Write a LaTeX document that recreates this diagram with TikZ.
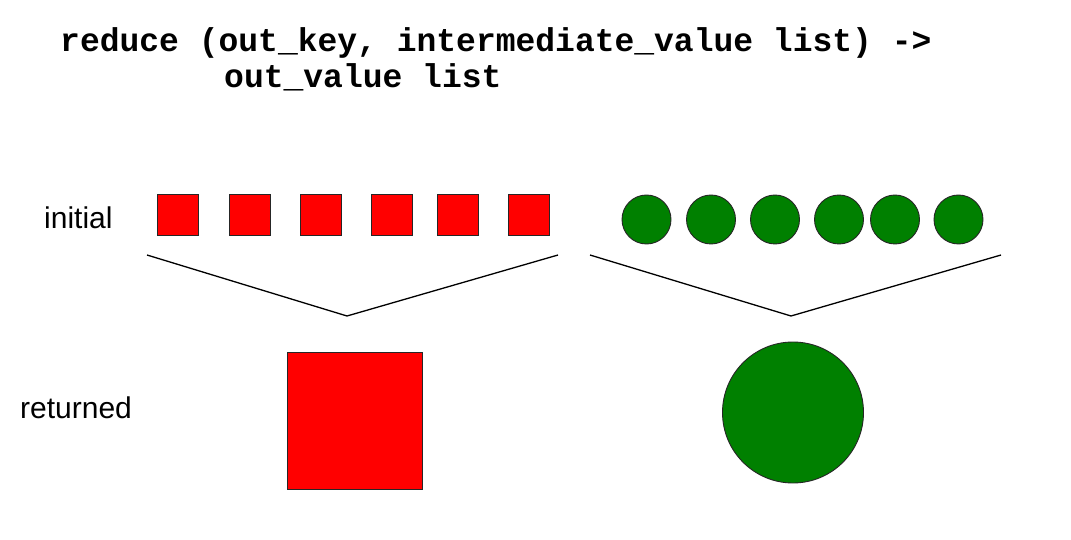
\documentclass[tikz,border=0pt]{standalone}
\usepackage{fontspec}
\setmainfont{Liberation Sans}
\newfontfamily\titlemono{Liberation Mono}
\definecolor{sqred}{RGB}{255,0,0}
\definecolor{cgreen}{RGB}{0,128,0}
\tikzset{
  smallsq/.style={draw=black!85, fill=sqred, line width=0.9pt, minimum width=41pt, minimum height=41pt, inner sep=0pt, outer sep=0pt},
  smallci/.style={circle, draw=black!85, fill=cgreen, line width=0.9pt, minimum size=49pt, inner sep=0pt, outer sep=0pt},
  bigsq/.style={draw=black!85, fill=sqred, line width=0.9pt, minimum width=135pt, minimum height=137pt, inner sep=0pt, outer sep=0pt},
  bigci/.style={circle, draw=black!85, fill=cgreen, line width=0.9pt, minimum size=141pt, inner sep=0pt, outer sep=0pt},
  label/.style={font=\fontsize{30}{36}\selectfont, inner sep=0pt, anchor=base west},
  titletext/.style={font=\titlemono\bfseries\fontsize{33}{40}\selectfont, inner sep=0pt, anchor=base west},
  vline/.style={line width=1.3pt, black}
}
\begin{document}
\begin{tikzpicture}[x=1pt, y=-1pt]
\useasboundingbox (0,0) rectangle (1071,540);
\fill[white] (0,0) rectangle (1071,540);
% title
\node[titletext] (t1) at (60,52) {reduce (out\_key, intermediate\_value list) ->};
\node[titletext] (t2) at (224,88) {out\_value list};
% labels
\node[label] (linit) at (44,229) {initial};
\node[label] (lret) at (20,418) {returned};
% small squares
\node[smallsq] (s1) at (177.5,214.5) {};
\node[smallsq] (s2) at (249.5,214.5) {};
\node[smallsq] (s3) at (320.5,214.5) {};
\node[smallsq] (s4) at (391.5,214.5) {};
\node[smallsq] (s5) at (457.5,214.5) {};
\node[smallsq] (s6) at (528.5,214.5) {};
% small circles
\node[smallci] (c1) at (646.5,219.5) {};
\node[smallci] (c2) at (711,219.5) {};
\node[smallci] (c3) at (775,219.5) {};
\node[smallci] (c4) at (839,219.5) {};
\node[smallci] (c5) at (895,219.5) {};
\node[smallci] (c6) at (958.5,219.5) {};
% funnels
\coordinate (la) at (147,255);
\coordinate (lb) at (347,316);
\coordinate (lc) at (558,255);
\coordinate (ra) at (590,255);
\coordinate (rb) at (791,316);
\coordinate (rc) at (1001,255);
\draw[vline] (la) -- (lb) -- (lc);
\draw[vline] (ra) -- (rb) -- (rc);
% results
\node[bigsq] (bs) at (354.5,420.5) {};
\node[bigci] (bc) at (793,412.5) {};
\end{tikzpicture}
\end{document}
